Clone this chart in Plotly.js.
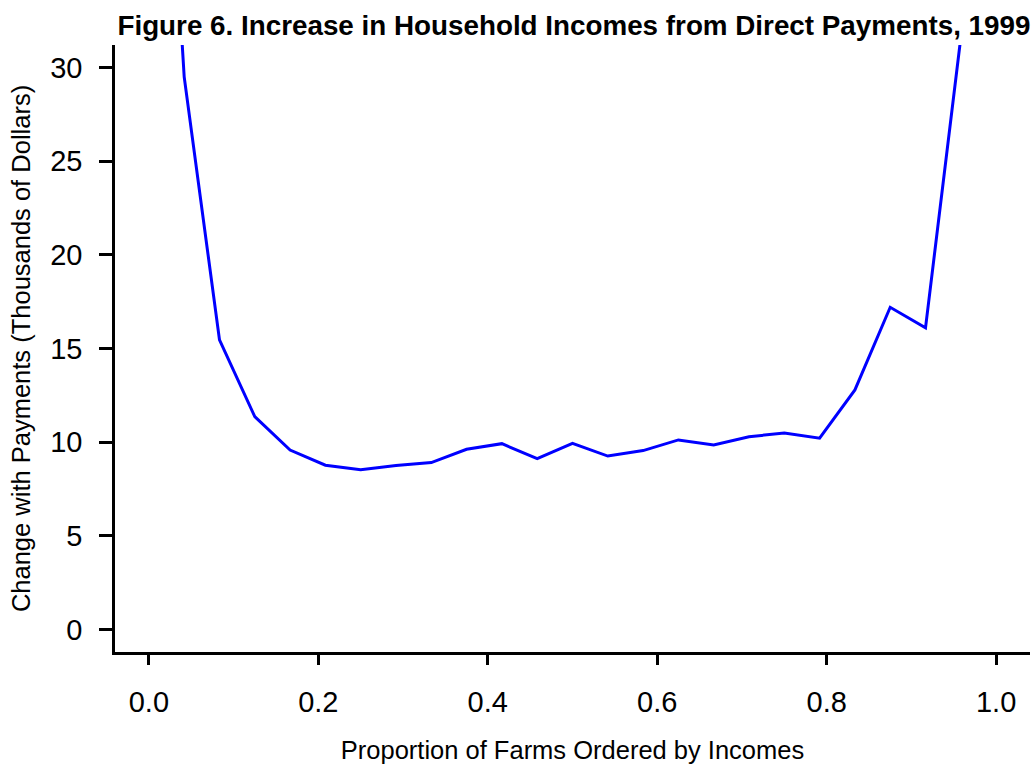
<!DOCTYPE html>
<html>
<head>
<meta charset="utf-8">
<script src="https://cdn.plot.ly/plotly-3.0.1.min.js"></script>
<style>
  html, body { margin: 0; padding: 0; background: #ffffff; }
  #chart { width: 1036px; height: 772px; }
</style>
</head>
<body>
<div id="chart"></div>
<script>
// Share of farms (ordered by household income) at each group point
const farmShare = [0, 1/24, 2/24, 3/24, 4/24, 5/24, 6/24, 7/24, 8/24, 9/24, 10/24, 11/24, 12/24,
                   13/24, 14/24, 15/24, 16/24, 17/24, 18/24, 19/24, 20/24, 21/24, 22/24, 23/24, 1];
// Increase in household income from direct payments, thousands of dollars
const incomeChange = [60.4, 29.5, 15.46, 11.36, 9.58, 8.77, 8.53, 8.75, 8.91, 9.62, 9.92, 9.12, 9.94,
                      9.26, 9.55, 10.12, 9.85, 10.29, 10.49, 10.21, 12.79, 17.2, 16.1, 31.6, 75];

const xTicks = [0, 0.2, 0.4, 0.6, 0.8, 1.0];
const xTickText = ['0.0', '0.2', '0.4', '0.6', '0.8', '1.0'];
const yTicks = [0, 5, 10, 15, 20, 25, 30];

const font = 'Liberation Sans, Arial, Helvetica, sans-serif';

const trace = {
  x: farmShare,
  y: incomeChange,
  type: 'scatter',
  mode: 'lines',
  line: { color: '#0000ff', width: 3 },
  hoverinfo: 'x+y'
};

const layout = {
  width: 1036,
  height: 772,
  margin: { l: 115, r: 6, t: 45, b: 120, pad: 0 },
  paper_bgcolor: '#ffffff',
  plot_bgcolor: '#ffffff',
  showlegend: false,
  font: { family: font, color: '#000000' },
  title: {
    text: '<b>Figure 6. Increase in Household Incomes from Direct Payments, 1999</b>',
    font: { family: font, size: 27.8, color: '#000000' },
    x: 0.554, xref: 'container', xanchor: 'center',
    y: 0.967, yref: 'container', yanchor: 'middle'
  },
  xaxis: {
    range: [-0.04, 1.04],
    tickvals: xTicks,
    ticktext: xTickText,
    ticks: 'outside',
    ticklen: 10,
    tickwidth: 2.8,
    tickcolor: '#000000',
    showline: true,
    linecolor: '#000000',
    linewidth: 2.8,
    showgrid: false,
    zeroline: false,
    tickfont: { family: font, size: 29, color: '#000000' },
    ticklabelstandoff: 12,
    title: {
      text: 'Proportion of Farms Ordered by Incomes',
      font: { family: font, size: 25.5, color: '#000000' },
      standoff: 25
    },
    fixedrange: true
  },
  yaxis: {
    range: [-1.2, 31.2],
    tickvals: yTicks,
    ticks: 'outside',
    ticklen: 13,
    tickwidth: 2.8,
    tickcolor: '#000000',
    showline: true,
    linecolor: '#000000',
    linewidth: 2.8,
    showgrid: false,
    zeroline: false,
    tickfont: { family: font, size: 29, color: '#000000' },
    ticklabelstandoff: 11,
    title: {
      text: 'Change with Payments (Thousands of Dollars)',
      font: { family: font, size: 25.5, color: '#000000' },
      standoff: 13
    },
    fixedrange: true
  }
};

Plotly.newPlot('chart', [trace], layout, { displayModeBar: false, staticPlot: true });
</script>
</body>
</html>
